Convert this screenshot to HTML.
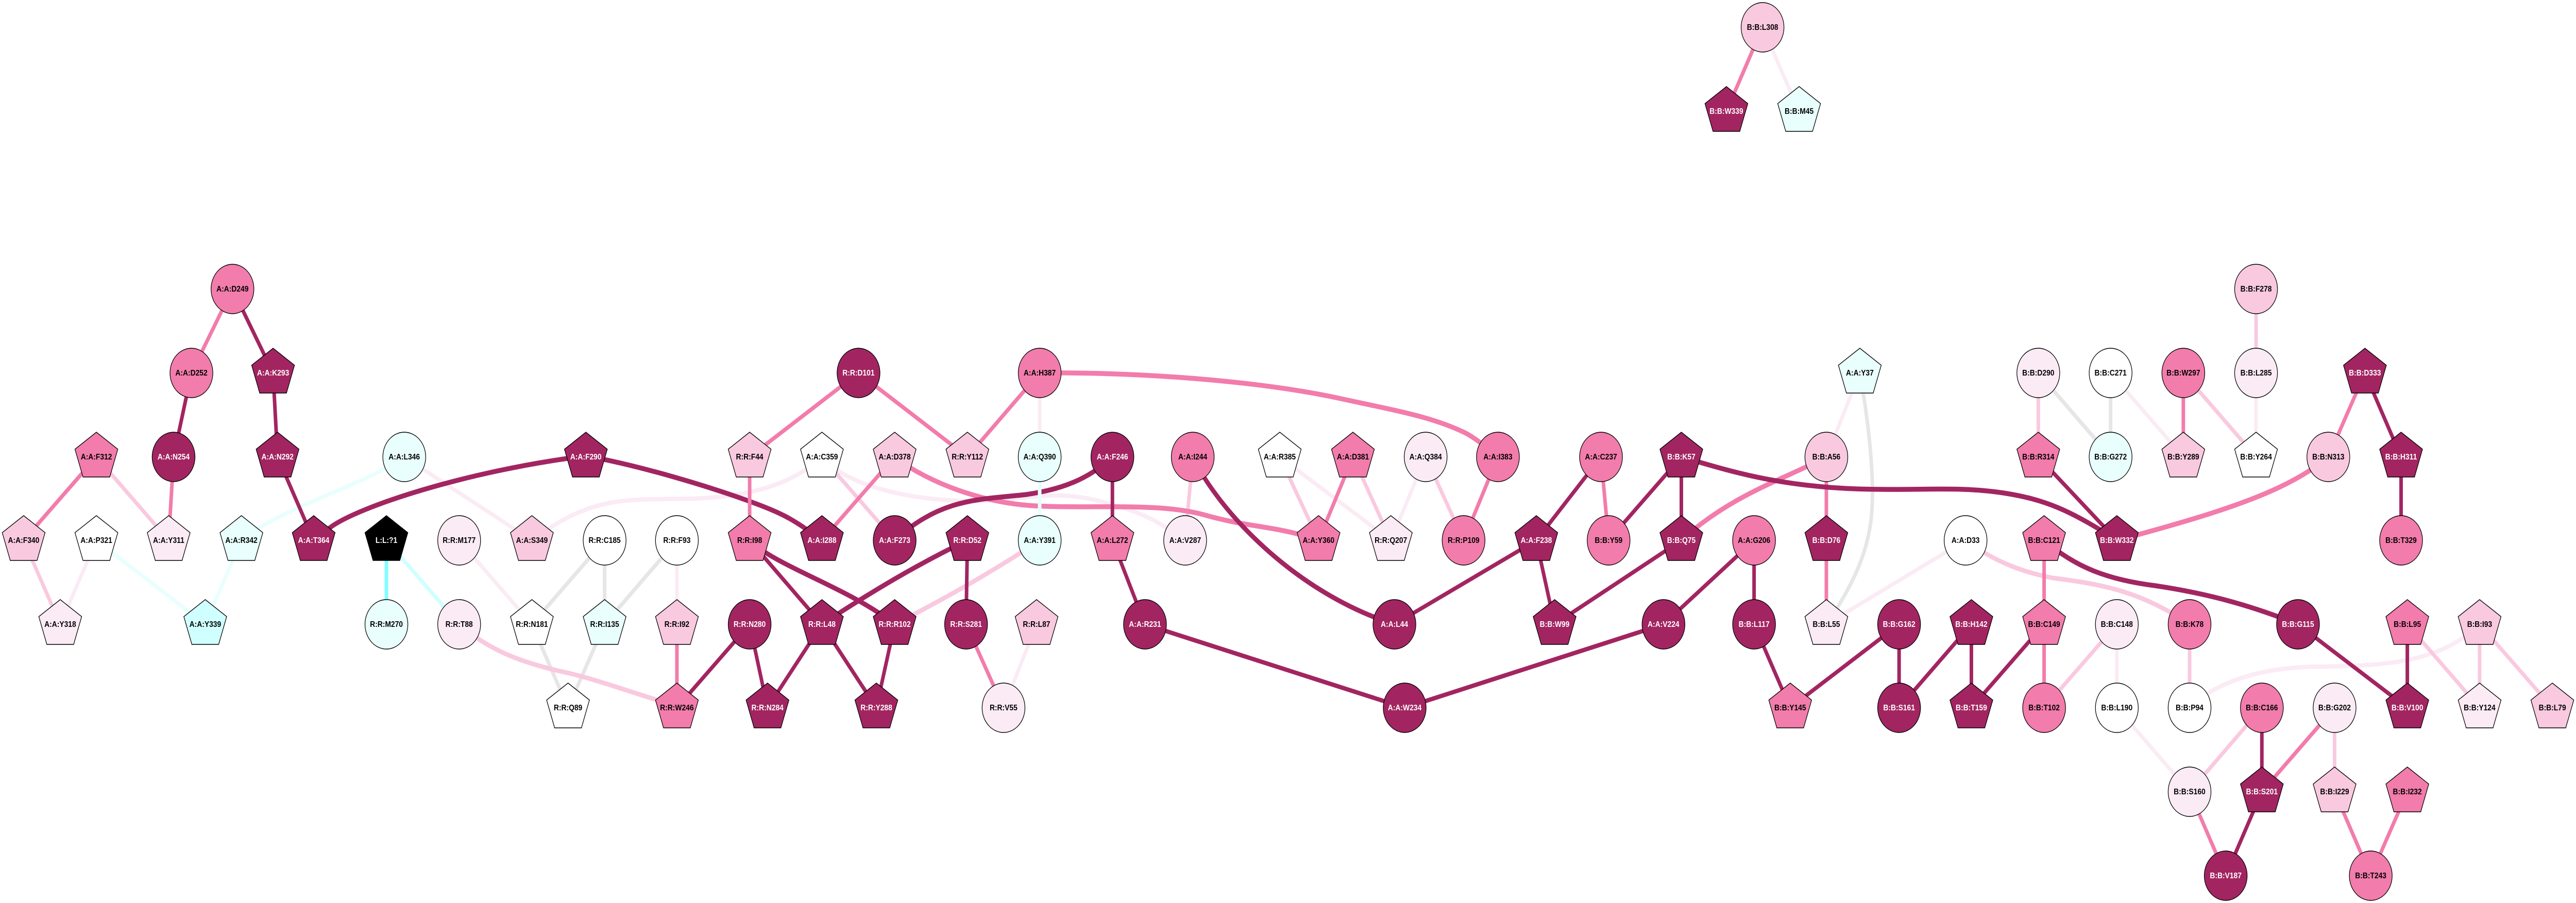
<!DOCTYPE html>
<html>
<head>
<meta charset="utf-8">
<style>
html,body{margin:0;padding:0;background:#fff;width:100%;height:100%;overflow:hidden}
svg{display:block;width:100vw;height:100vh}
path.e{fill:none;stroke-linecap:butt}
.n use{stroke:#000;stroke-width:1.4}
text{font-family:"Liberation Sans",Arial,sans-serif;font-weight:bold;font-size:16px;text-anchor:middle;fill:#000}
.d{fill:#A22561}.m{fill:#F27CAB}.l{fill:#F9C9DF}.v{fill:#FBEBF4}.c{fill:#E8FFFD}.w{fill:#fff}.b{fill:#000}.y{fill:#D0FFFF}
.d text,.b text{fill:#fff}
</style>
</head>
<body>
<svg xmlns="http://www.w3.org/2000/svg" viewBox="0 0 5773 1753" preserveAspectRatio="none">
<defs>
<circle id="o" cx="0" cy="0" r="48"/>
<polygon id="p" points="0,-48 48,-15 30,39 -30,39 -48,-15"/>
</defs>
<rect width="5773" height="1753" fill="#fff"/>

<!-- grey -->
<path class="e" stroke="#E6E6E6" stroke-width="8" d="M1355,1049L1192,1212M1355,1049L1355,1212M1517,1049L1355,1212M1192,1212L1273,1374M1355,1212L1273,1374M4568,724L4730,887M4730,724L4730,887M4168,724C4190,830 4200,930 4195,990C4190,1070 4150,1140 4093,1212"/>
<!-- cyan -->
<path class="e" stroke="#E8FFFD" stroke-width="8" d="M216,1049L460,1212M541,1049L460,1212M906,887C810,945 630,985 541,1049"/>
<path class="e" stroke="#80FFFF" stroke-width="8" d="M866,1049L866,1212"/>
<path class="e" stroke="#D0FFFF" stroke-width="8" d="M866,1049L1029,1212"/>
<!-- very light -->
<path class="e" stroke="#FBEBF4" stroke-width="8" d="M216,1049L135,1212M906,887L1192,1049M1029,1049L1192,1212M1517,1049L1517,1212M2330,724L2330,887M2868,887L3117,1049M3195,887L3117,1049M4168,724L4093,887M4405,1049L4093,1212M4744,1212L4744,1374M4744,1374L4907,1537M4730,724L4893,887M5056,724L5056,887M3950,53L4032,216M2323,1212L2249,1374"/>
<path class="e" stroke="#FBEBF4" stroke-width="8.5" d="M1842,887C1790,930 1700,965 1550,968S1330,960 1192,1049M1842,887C1890,935 2000,965 2140,972C2280,978 2330,950 2440,968C2530,985 2590,1005 2655,1049M4907,1374C4960,1330 5050,1295 5200,1294S5470,1285 5557,1212"/>
<!-- light -->
<path class="e" stroke="#F9C9DF" stroke-width="8" d="M216,887L378,1049M53,1049L135,1212M1842,887L2005,1049M2673,887L2656,1049M2868,887L2955,1049M3032,887L3117,1049M3195,887L3280,1049M4568,724L4568,887M4744,1212L4581,1374M4907,1212L4907,1374M5395,1212L5557,1374M5557,1212L5557,1374M5557,1212L5720,1374M5069,1374L4907,1537M5232,1374L5232,1537M4893,724L5056,887M5056,561L5056,724"/>
<path class="e" stroke="#F9C9DF" stroke-width="9" d="M1029,1212C1100,1265 1170,1285 1250,1302C1340,1318 1430,1350 1517,1370M2330,1049Q2190,1130 2005,1212M4405,1049C4470,1090 4530,1110 4600,1122C4720,1135 4800,1150 4907,1212"/>
<!-- mid -->
<path class="e" stroke="#F27CAB" stroke-width="8" d="M521,561L429,724M389,887L378,1049M216,887L53,1049M1517,1212L1517,1374M1924,724L1680,887M1924,724L2168,887M2330,724L2168,887M2005,887L1842,1049M3032,887L2955,1049M3357,887L3280,1049M3588,887L3605,1049M4093,887L4093,1049M4093,1049L4093,1212M4581,1049L4581,1212M4581,1212L4581,1374M5232,1374L5069,1537M4907,1537L4988,1700M5232,1537L5313,1700M5395,1537L5313,1700M4893,724L4893,887M5300,724L5218,887M3950,53L3869,216M2165,1212L2249,1374"/>
<path class="e" stroke="#F27CAB" stroke-width="9.5" d="M2330,724C2600,722 2850,745 3000,773S3210,810 3283,840Q3310,852 3357,887M2005,887C2060,925 2180,975 2319,982C2450,988 2600,975 2701,1000S2860,1020 2955,1049M4093,887C4000,930 3880,960 3768,1049M5218,887C5130,950 5000,990 4744,1049"/>
<!-- dark -->
<path class="e" stroke="#A22561" stroke-width="8" d="M521,561L612,724M429,724L389,887M612,724L622,887M622,887L703,1049M1680,1212L1517,1374M1680,1212L1720,1374M1842,1212L1720,1374M1842,1212L1964,1374M2005,1212L1964,1374M1680,1049L1842,1212M2168,1049L2165,1212M2493,887L2493,1049M2493,1049L2566,1212M3588,887L3443,1049M3768,887L3605,1049M3768,887L3768,1049M3443,1049L3125,1212M3443,1049L3484,1212M3768,1049L3484,1212M3931,1049L3728,1212M3931,1049L3931,1212M3931,1212L4012,1374M4256,1212L4012,1374M4256,1212L4256,1374M4418,1212L4256,1374M4418,1212L4418,1374M4581,1212L4418,1374M5150,1212L5395,1374M5395,1212L5395,1374M5069,1374L5069,1537M5069,1537L4988,1700M4568,887L4744,1049M5300,724L5381,887M5381,887L5381,1049"/>
<path class="e" stroke="#A22561" stroke-width="8.5" d="M2566,1212L3148,1374M3148,1374L3728,1212"/>
<path class="e" stroke="#A22561" stroke-width="9.5" d="M720,1037L740,1024C800,985 1040,915 1313,885M1313,885C1440,905 1590,945 1676,972S1780,1010 1842,1049M2168,1049Q2020,1110 1842,1212M1680,1049C1740,1100 1900,1140 2005,1212M2493,887C2440,930 2380,950 2300,960C2200,970 2110,965 2005,1049M2673,887C2730,990 2900,1150 3125,1212M3768,887C3880,915 4000,950 4219,950C4320,951 4400,945 4490,957S4640,990 4744,1049M4581,1049C4650,1100 4720,1125 4830,1137C4930,1150 5030,1170 5150,1212"/>
<!-- edges painted on top -->
<path class="e" stroke="#F27CAB" stroke-width="8" d="M1680,887L1680,1049"/>
<path class="e" stroke="#E8FFFD" stroke-width="8" d="M2330,887L2330,1049"/>

<!-- nodes -->
<g class="n">
<g class="m" transform="translate(521,561)"><use href="#o"/><text y="5">A:A:D249</text></g>
<g class="m" transform="translate(429,724)"><use href="#o"/><text y="5">A:A:D252</text></g>
<g class="d" transform="translate(612,724)"><use href="#p"/><text y="5">A:A:K293</text></g>
<g class="m" transform="translate(216,887)"><use href="#p"/><text y="5">A:A:F312</text></g>
<g class="d" transform="translate(389,887)"><use href="#o"/><text y="5">A:A:N254</text></g>
<g class="d" transform="translate(622,887)"><use href="#p"/><text y="5">A:A:N292</text></g>
<g class="c" transform="translate(906,887)"><use href="#o"/><text y="5">A:A:L346</text></g>
<g class="l" transform="translate(53,1049)"><use href="#p"/><text y="5">A:A:F340</text></g>
<g class="w" transform="translate(216,1049)"><use href="#p"/><text y="5">A:A:P321</text></g>
<g class="v" transform="translate(378,1049)"><use href="#p"/><text y="5">A:A:Y311</text></g>
<g class="c" transform="translate(541,1049)"><use href="#p"/><text y="5">A:A:R342</text></g>
<g class="d" transform="translate(703,1049)"><use href="#p"/><text y="5">A:A:T364</text></g>
<g class="b" transform="translate(866,1049)"><use href="#p"/><text y="5">L:L:?1</text></g>
<g class="v" transform="translate(135,1212)"><use href="#p"/><text y="5">A:A:Y318</text></g>
<g class="y" transform="translate(460,1212)"><use href="#p"/><text y="5">A:A:Y339</text></g>
<g class="c" transform="translate(866,1212)"><use href="#o"/><text y="5">R:R:M270</text></g>

<g class="v" transform="translate(1029,1049)"><use href="#o"/><text y="5">R:R:M177</text></g>
<g class="l" transform="translate(1192,1049)"><use href="#p"/><text y="5">A:A:S349</text></g>
<g class="w" transform="translate(1355,1049)"><use href="#o"/><text y="5">R:R:C185</text></g>
<g class="w" transform="translate(1517,1049)"><use href="#o"/><text y="5">R:R:F93</text></g>
<g class="m" transform="translate(1680,1049)"><use href="#p"/><text y="5">R:R:I98</text></g>
<g class="d" transform="translate(1842,1049)"><use href="#p"/><text y="5">A:A:I288</text></g>
<g class="d" transform="translate(2005,1049)"><use href="#o"/><text y="5">A:A:F273</text></g>
<g class="d" transform="translate(1313,887)"><use href="#p"/><text y="5">A:A:F290</text></g>
<g class="l" transform="translate(1680,887)"><use href="#p"/><text y="5">R:R:F44</text></g>
<g class="w" transform="translate(1842,887)"><use href="#p"/><text y="5">A:A:C359</text></g>
<g class="l" transform="translate(2005,887)"><use href="#p"/><text y="5">A:A:D378</text></g>
<g class="d" transform="translate(1924,724)"><use href="#o"/><text y="5">R:R:D101</text></g>

<g class="v" transform="translate(1029,1212)"><use href="#o"/><text y="5">R:R:T88</text></g>
<g class="w" transform="translate(1192,1212)"><use href="#p"/><text y="5">R:R:N181</text></g>
<g class="c" transform="translate(1355,1212)"><use href="#p"/><text y="5">R:R:I135</text></g>
<g class="l" transform="translate(1517,1212)"><use href="#p"/><text y="5">R:R:I92</text></g>
<g class="d" transform="translate(1680,1212)"><use href="#o"/><text y="5">R:R:N280</text></g>
<g class="d" transform="translate(1842,1212)"><use href="#p"/><text y="5">R:R:L48</text></g>
<g class="d" transform="translate(2005,1212)"><use href="#p"/><text y="5">R:R:R102</text></g>
<g class="d" transform="translate(2165,1212)"><use href="#o"/><text y="5">R:R:S281</text></g>
<g class="l" transform="translate(2323,1212)"><use href="#p"/><text y="5">R:R:L87</text></g>
<g class="d" transform="translate(2566,1212)"><use href="#o"/><text y="5">A:A:R231</text></g>
<g class="w" transform="translate(1273,1374)"><use href="#p"/><text y="5">R:R:Q89</text></g>
<g class="m" transform="translate(1517,1374)"><use href="#p"/><text y="5">R:R:W246</text></g>
<g class="d" transform="translate(1720,1374)"><use href="#p"/><text y="5">R:R:N284</text></g>
<g class="d" transform="translate(1964,1374)"><use href="#p"/><text y="5">R:R:Y288</text></g>
<g class="v" transform="translate(2249,1374)"><use href="#o"/><text y="5">R:R:V55</text></g>

<g class="m" transform="translate(2330,724)"><use href="#o"/><text y="5">A:A:H387</text></g>
<g class="l" transform="translate(2168,887)"><use href="#p"/><text y="5">R:R:Y112</text></g>
<g class="c" transform="translate(2330,887)"><use href="#o"/><text y="5">A:A:Q390</text></g>
<g class="d" transform="translate(2493,887)"><use href="#o"/><text y="5">A:A:F246</text></g>
<g class="m" transform="translate(2673,887)"><use href="#o"/><text y="5">A:A:I244</text></g>
<g class="w" transform="translate(2868,887)"><use href="#p"/><text y="5">A:A:R385</text></g>
<g class="m" transform="translate(3032,887)"><use href="#p"/><text y="5">A:A:D381</text></g>
<g class="v" transform="translate(3195,887)"><use href="#o"/><text y="5">A:A:Q384</text></g>
<g class="m" transform="translate(3357,887)"><use href="#o"/><text y="5">A:A:I383</text></g>
<g class="m" transform="translate(3588,887)"><use href="#o"/><text y="5">A:A:C237</text></g>
<g class="d" transform="translate(3768,887)"><use href="#p"/><text y="5">B:B:K57</text></g>
<g class="d" transform="translate(2168,1049)"><use href="#p"/><text y="5">R:R:D52</text></g>
<g class="c" transform="translate(2330,1049)"><use href="#o"/><text y="5">A:A:Y391</text></g>
<g class="m" transform="translate(2493,1049)"><use href="#p"/><text y="5">A:A:L272</text></g>
<g class="v" transform="translate(2656,1049)"><use href="#o"/><text y="5">A:A:V287</text></g>
<g class="m" transform="translate(2955,1049)"><use href="#p"/><text y="5">A:A:Y360</text></g>
<g class="v" transform="translate(3117,1049)"><use href="#p"/><text y="5">R:R:Q207</text></g>
<g class="m" transform="translate(3280,1049)"><use href="#o"/><text y="5">R:R:P109</text></g>
<g class="d" transform="translate(3443,1049)"><use href="#p"/><text y="5">A:A:F238</text></g>
<g class="m" transform="translate(3605,1049)"><use href="#o"/><text y="5">B:B:Y59</text></g>
<g class="d" transform="translate(3768,1049)"><use href="#p"/><text y="5">B:B:Q75</text></g>
<g class="m" transform="translate(3931,1049)"><use href="#o"/><text y="5">A:A:G206</text></g>
<g class="d" transform="translate(3125,1212)"><use href="#o"/><text y="5">A:A:L44</text></g>
<g class="d" transform="translate(3484,1212)"><use href="#p"/><text y="5">B:B:W99</text></g>
<g class="d" transform="translate(3728,1212)"><use href="#o"/><text y="5">A:A:V224</text></g>
<g class="d" transform="translate(3931,1212)"><use href="#o"/><text y="5">B:B:L117</text></g>
<g class="d" transform="translate(3148,1374)"><use href="#o"/><text y="5">A:A:W234</text></g>

<g class="l" transform="translate(3950,53)"><use href="#o"/><text y="5">B:B:L308</text></g>
<g class="d" transform="translate(3869,216)"><use href="#p"/><text y="5">B:B:W339</text></g>
<g class="c" transform="translate(4032,216)"><use href="#p"/><text y="5">B:B:M45</text></g>

<g class="c" transform="translate(4168,724)"><use href="#p"/><text y="5">A:A:Y37</text></g>
<g class="l" transform="translate(4093,887)"><use href="#o"/><text y="5">B:B:A56</text></g>
<g class="d" transform="translate(4093,1049)"><use href="#p"/><text y="5">B:B:D76</text></g>
<g class="w" transform="translate(4405,1049)"><use href="#o"/><text y="5">A:A:D33</text></g>
<g class="m" transform="translate(4581,1049)"><use href="#p"/><text y="5">B:B:C121</text></g>
<g class="d" transform="translate(4744,1049)"><use href="#p"/><text y="5">B:B:W332</text></g>
<g class="v" transform="translate(4568,724)"><use href="#o"/><text y="5">B:B:D290</text></g>
<g class="w" transform="translate(4730,724)"><use href="#o"/><text y="5">B:B:C271</text></g>
<g class="m" transform="translate(4893,724)"><use href="#o"/><text y="5">B:B:W297</text></g>
<g class="m" transform="translate(4568,887)"><use href="#p"/><text y="5">B:B:R314</text></g>
<g class="c" transform="translate(4730,887)"><use href="#o"/><text y="5">B:B:G272</text></g>
<g class="l" transform="translate(4893,887)"><use href="#p"/><text y="5">B:B:Y289</text></g>
<g class="l" transform="translate(5056,561)"><use href="#o"/><text y="5">B:B:F278</text></g>
<g class="v" transform="translate(5056,724)"><use href="#o"/><text y="5">B:B:L285</text></g>
<g class="w" transform="translate(5056,887)"><use href="#p"/><text y="5">B:B:Y264</text></g>
<g class="d" transform="translate(5300,724)"><use href="#p"/><text y="5">B:B:D333</text></g>
<g class="l" transform="translate(5218,887)"><use href="#o"/><text y="5">B:B:N313</text></g>
<g class="d" transform="translate(5381,887)"><use href="#p"/><text y="5">B:B:H311</text></g>
<g class="m" transform="translate(5381,1049)"><use href="#o"/><text y="5">B:B:T329</text></g>

<g class="v" transform="translate(4093,1212)"><use href="#p"/><text y="5">B:B:L55</text></g>
<g class="d" transform="translate(4256,1212)"><use href="#o"/><text y="5">B:B:G162</text></g>
<g class="d" transform="translate(4418,1212)"><use href="#p"/><text y="5">B:B:H142</text></g>
<g class="m" transform="translate(4581,1212)"><use href="#p"/><text y="5">B:B:C149</text></g>
<g class="v" transform="translate(4744,1212)"><use href="#o"/><text y="5">B:B:C148</text></g>
<g class="m" transform="translate(4907,1212)"><use href="#o"/><text y="5">B:B:K78</text></g>
<g class="d" transform="translate(5150,1212)"><use href="#o"/><text y="5">B:B:G115</text></g>
<g class="m" transform="translate(5395,1212)"><use href="#p"/><text y="5">B:B:L95</text></g>
<g class="l" transform="translate(5557,1212)"><use href="#p"/><text y="5">B:B:I93</text></g>
<g class="m" transform="translate(4012,1374)"><use href="#p"/><text y="5">B:B:Y145</text></g>
<g class="d" transform="translate(4256,1374)"><use href="#o"/><text y="5">B:B:S161</text></g>
<g class="d" transform="translate(4418,1374)"><use href="#p"/><text y="5">B:B:T159</text></g>
<g class="m" transform="translate(4581,1374)"><use href="#o"/><text y="5">B:B:T102</text></g>
<g class="w" transform="translate(4744,1374)"><use href="#o"/><text y="5">B:B:L190</text></g>
<g class="w" transform="translate(4907,1374)"><use href="#o"/><text y="5">B:B:P94</text></g>
<g class="m" transform="translate(5069,1374)"><use href="#o"/><text y="5">B:B:C166</text></g>
<g class="v" transform="translate(5232,1374)"><use href="#o"/><text y="5">B:B:G202</text></g>
<g class="d" transform="translate(5395,1374)"><use href="#p"/><text y="5">B:B:V100</text></g>
<g class="v" transform="translate(5557,1374)"><use href="#p"/><text y="5">B:B:Y124</text></g>
<g class="l" transform="translate(5720,1374)"><use href="#p"/><text y="5">B:B:L79</text></g>
<g class="v" transform="translate(4907,1537)"><use href="#o"/><text y="5">B:B:S160</text></g>
<g class="d" transform="translate(5069,1537)"><use href="#p"/><text y="5">B:B:S201</text></g>
<g class="l" transform="translate(5232,1537)"><use href="#p"/><text y="5">B:B:I229</text></g>
<g class="m" transform="translate(5395,1537)"><use href="#p"/><text y="5">B:B:I232</text></g>
<g class="d" transform="translate(4988,1700)"><use href="#o"/><text y="5">B:B:V187</text></g>
<g class="m" transform="translate(5313,1700)"><use href="#o"/><text y="5">B:B:T243</text></g>
</g>
</svg>
</body>
</html>
